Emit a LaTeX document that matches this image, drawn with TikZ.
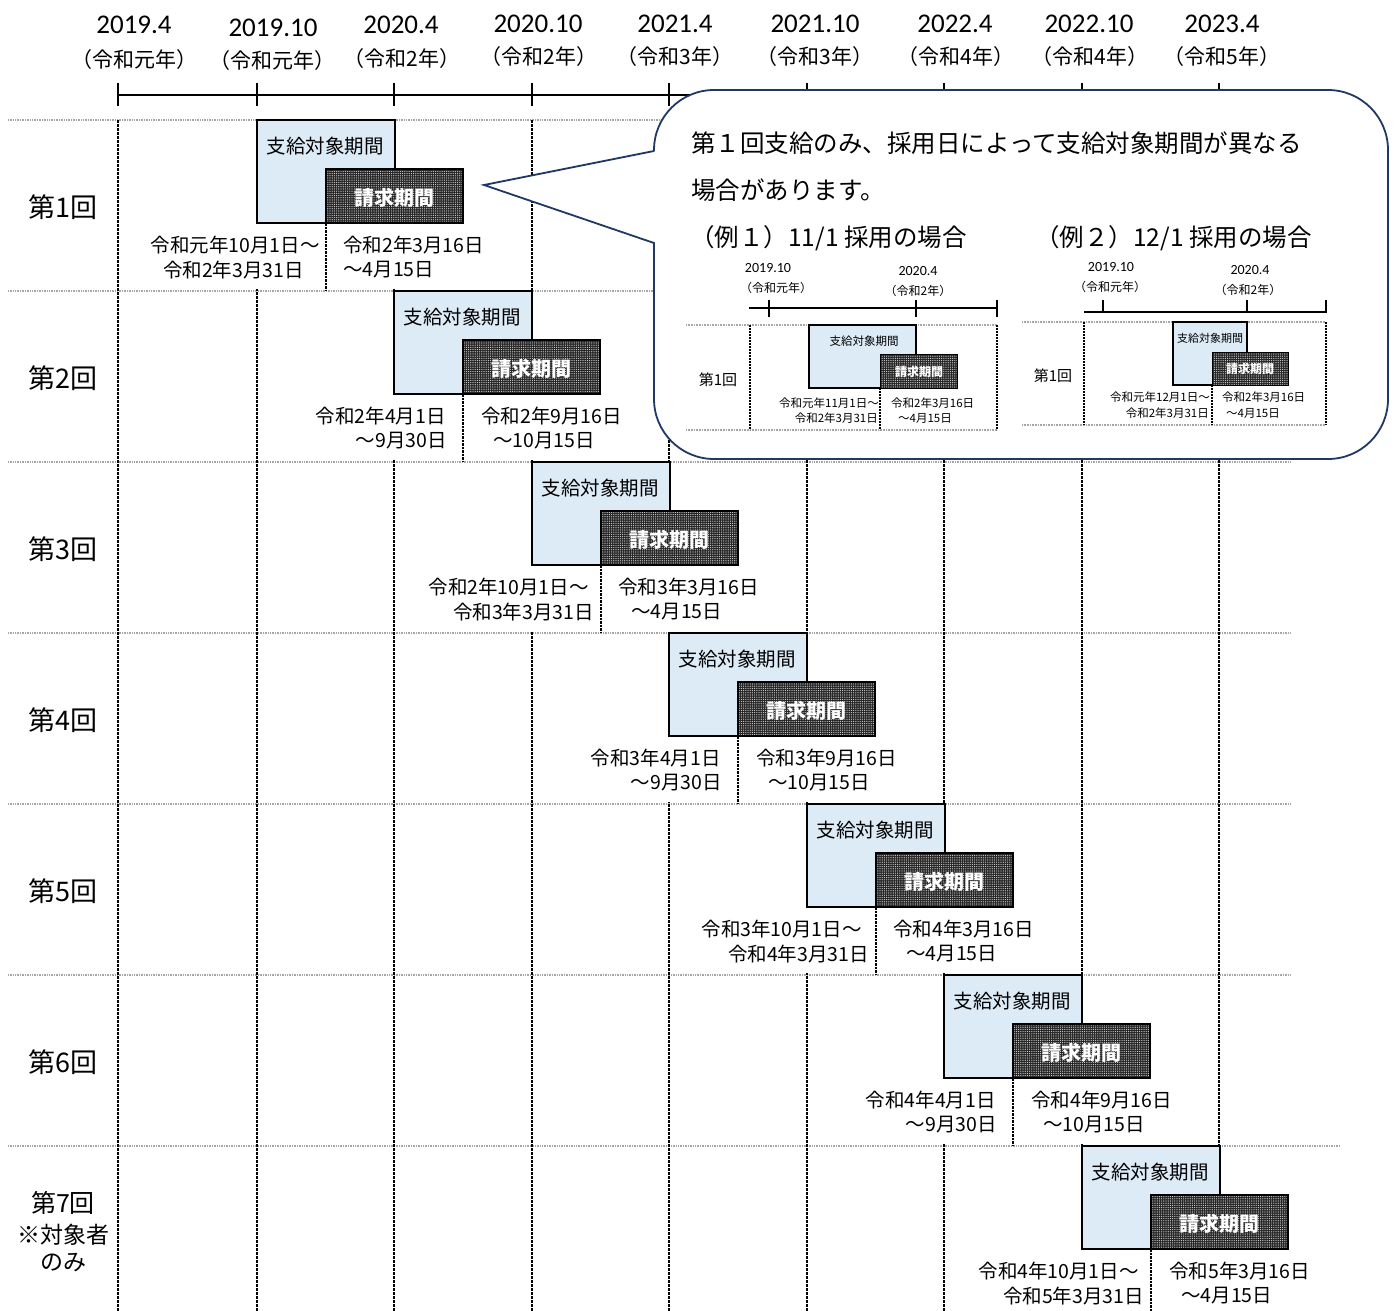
\documentclass[tikz,border=0pt]{standalone}
\usepackage{fontspec}
\setmainfont{Noto Sans CJK JP}
\newfontfamily\latinnum{Carlito}
\usetikzlibrary{patterns.meta}
\definecolor{boxblue}{RGB}{221,235,247}
\definecolor{navy}{RGB}{31,56,100}
\newcommand\fsz[1]{\fontsize{#1}{#1}\selectfont}
\tikzset{
  axisline/.style={draw=black, line width=1.6pt},
  hline/.style={draw=gray!70, line width=2.6pt, dash pattern=on 1pt off 0.7pt},
  vline/.style={draw=black, line width=2.4pt, dash pattern=on 3pt off 1pt},
  sepline/.style={draw=black, line width=1.6pt, dash pattern=on 2.5pt off 1pt},
  shline/.style={draw=gray!70, line width=1.8pt, dash pattern=on 1pt off 0.6pt},
  svline/.style={draw=black, line width=1.2pt, dash pattern=on 2pt off 1pt},
  bluebox/.style={draw=black, line width=1.8pt, fill=boxblue},
  sbluebox/.style={draw=black, line width=1.1pt, fill=boxblue},
  darkfill/.style={fill=black!85},
  darkdots/.style={pattern={Dots[distance=2.2pt,radius=0.6pt]}, pattern color=white!85!black},
  darkedge/.style={draw=black, line width=1.4pt},
  lbl/.style={inner sep=0pt, font=\fsz{19.5}},
  slbl/.style={inner sep=0pt, font=\fsz{11.5}},
  yearlbl/.style={inner sep=0pt, font=\latinnum\fsz{27}},
  erlbl/.style={inner sep=0pt, font=\fsz{21}},
  syearlbl/.style={inner sep=0pt, font=\latinnum\fsz{14}},
  serlbl/.style={inner sep=0pt, font=\fsz{12}},
  rowlbl/.style={inner sep=0pt, font=\fsz{27}, align=center},
  boxtxt/.style={inner sep=0pt, font=\fsz{19.5}},
  darktxt/.style={inner sep=0pt, font=\bfseries\fsz{20}, text=white},
  sboxtxt/.style={inner sep=0pt, font=\fsz{11.5}},
  sdarktxt/.style={inner sep=0pt, font=\bfseries\fsz{12}, text=white},
  callout/.style={draw=navy, line width=1.8pt},
  ctext/.style={inner sep=0pt, anchor=west, font=\fsz{24.5}},
}
\begin{document}
\begin{tikzpicture}[x=1pt,y=-1pt]
\useasboundingbox (0,0) rectangle (1394,1311);
\fill[white] (0,0) rectangle (1394,1311);

% ---- time axis
\draw[axisline] (118,95) coordinate (ax0) -- (1219,95) coordinate (ax1);
\foreach \x [count=\k] in {118,257,394,532,669,807,944,1082,1219}
  \draw[axisline] (\x,83) coordinate (tk\k) -- (\x,106);
\foreach \x/\y/\t [count=\k] in {134/25/2019.4, 273/28/2019.10, 401/25/2020.4, 538/24/2020.10, 675/24/2021.4, 815/24/2021.10, 955/24/2022.4, 1089/24/2022.10, 1222/24/2023.4}
  \node[yearlbl] (yr\k) at (\x,\y) {\t};
\foreach \x/\y/\t [count=\k] in {134/60/令和元年, 272/61/令和元年, 402/59/令和2年, 539/57/令和2年, 675/57/令和3年, 815/57/令和3年, 956/57/令和4年, 1090/57/令和4年, 1222/57/令和5年}
  \node[erlbl] (er\k) at (\x,\y) {（\t）};

% ---- grid
\foreach \y in {120,291,462,633,804,975}
  \draw[hline] (8,\y) -- (1290,\y);
\draw[hline] (8,1146) -- (1340,1146);
\foreach \x in {118,257,394,532,669,807,944,1082,1219}
  \draw[vline] (\x,120) -- (\x,1311);

% ---- rows
\foreach \X/\T/\la/\lax/\lb/\lbx/\ra/\rax/\rb/\rbx [count=\i] in {
257/120/令和元年10月1日～/320/令和2年3月31日/304/令和2年3月16日/343/～4月15日/343,
394/291/令和2年4月1日/446/～9月30日/447/令和2年9月16日/481/～10月15日/493,
532/462/令和2年10月1日～/589/令和3年3月31日/594/令和3年3月16日/618/～4月15日/631,
669/633/令和3年4月1日/721/～9月30日/722/令和3年9月16日/756/～10月15日/768,
807/804/令和3年10月1日～/862/令和4年3月31日/869/令和4年3月16日/893/～4月15日/906,
944/975/令和4年4月1日/996/～9月30日/997/令和4年9月16日/1031/～10月15日/1043,
1082/1146/令和4年10月1日～/1139/令和5年3月31日/1144/令和5年3月16日/1169/～4月15日/1181}
{
  \fill[white] (\X-112,\T+104) rectangle (\X+206,\T+169);
  \draw[sepline] (\X+69,\T+103) -- (\X+69,\T+171);
  \node[lbl, anchor=east] (la\i) at (\lax,\T+125) {\la};
  \node[lbl, anchor=east] (lb\i) at (\lbx,\T+150) {\lb};
  \node[lbl, anchor=west] (ra\i) at (\rax,\T+125) {\ra};
  \node[lbl, anchor=west] (rb\i) at (\rbx,\T+150) {\rb};
  \draw[bluebox] (\X,\T) rectangle (\X+137.6,\T+103);
  \node[boxtxt] (pay\i) at (\X+68,\T+26) {支給対象期間};
  \fill[darkfill] (\X+69,\T+49) rectangle (\X+206,\T+103);
  \fill[darkdots] (\X+69,\T+49) rectangle (\X+206,\T+103);
  \draw[darkedge] (\X+69,\T+49) rectangle (\X+206,\T+103);
  \node[darktxt] (req\i) at (\X+137.5,\T+78) {請求期間};
}

% ---- row labels
\foreach \T [count=\i] in {120,291,462,633,804,975}
  \node[rowlbl] (row\i) at (63,\T+87) {第\i 回};
\node[rowlbl, font=\fsz{25}] (row7a) at (63,1203) {第7回};
\node[rowlbl, font=\fsz{23}] (row7b) at (63,1235) {※対象者};
\node[rowlbl, font=\fsz{23}] (row7c) at (63,1263) {のみ};

% ---- callout
\draw[callout, fill=white, rounded corners=60pt] (654,90) rectangle (1388,459);
\fill[white] (657,151) -- (484,185) -- (657,243) -- cycle;
\draw[callout] (654,151) coordinate (cp1) -- (484,185) coordinate (ctip) -- (654,243) coordinate (cp2);

\node[ctext] (c1) at (691,143) {第１回支給のみ、採用日によって支給対象期間が異なる};
\node[ctext] (c2) at (691,190) {場合があります。};
\node[ctext] (c3) at (690,238) {（例１）11/1 採用の場合};
\node[ctext] (c4) at (1035,238) {（例２）12/1 採用の場合};

% ---- inset 1
\draw[axisline, line width=1.1pt] (749,308) -- (997,308);
\foreach \x in {769,916,997} \draw[axisline, line width=1.1pt] (\x,300) -- (\x,317);
\node[syearlbl] (e1y1) at (768,268) {2019.10};
\node[serlbl] (e1r1) at (776,288) {（令和元年）};
\node[syearlbl] (e1y2) at (918,271) {2020.4};
\node[serlbl] (e1r2) at (918,291) {（令和2年）};
\draw[shline] (686,325) -- (997,325);
\draw[shline] (686,430) -- (997,430);
\draw[svline] (750,325) -- (750,430);
\draw[svline] (997,325) -- (997,430);
\draw[svline] (880,388) -- (880,430);
\node[rowlbl, font=\fsz{15}] (e1row) at (718,380) {第1回};
\draw[sbluebox] (809,325) rectangle (916,388);
\node[sboxtxt] (e1pay) at (864,341) {支給対象期間};
\fill[darkfill] (880,354) rectangle (957,388);
\fill[darkdots] (880,354) rectangle (957,388);
\draw[darkedge, line width=1pt] (880,354) rectangle (957,388);
\node[sdarktxt] (e1req) at (919,372) {請求期間};
\node[slbl, anchor=east] (e1la) at (879,403) {令和元年11月1日～};
\node[slbl, anchor=east] (e1lb) at (878,418) {令和2年3月31日};
\node[slbl, anchor=west] (e1ra) at (891,403) {令和2年3月16日};
\node[slbl, anchor=west] (e1rb) at (898,418) {～4月15日};

% ---- inset 2
\draw[axisline, line width=1.1pt] (1084,312) -- (1326,312);
\foreach \x in {1103,1247,1326} \draw[axisline, line width=1.1pt] (\x,300) -- (\x,313);
\node[syearlbl] (e2y1) at (1111,267) {2019.10};
\node[serlbl] (e2r1) at (1110,287) {（令和元年）};
\node[syearlbl] (e2y2) at (1250,270) {2020.4};
\node[serlbl] (e2r2) at (1248,290) {（令和2年）};
\draw[shline] (1022,322) -- (1326,322);
\draw[shline] (1022,425) -- (1326,425);
\draw[svline] (1084,322) -- (1084,425);
\draw[svline] (1326,322) -- (1326,425);
\draw[svline] (1212,385) -- (1212,425);
\node[rowlbl, font=\fsz{15}] (e2row) at (1053,376) {第1回};
\draw[sbluebox] (1173,322) rectangle (1247,385);
\node[sboxtxt, font=\fsz{11}] (e2pay) at (1210,338) {支給対象期間};
\fill[darkfill] (1212,352) rectangle (1288,385);
\fill[darkdots] (1212,352) rectangle (1288,385);
\draw[darkedge, line width=1pt] (1212,352) rectangle (1288,385);
\node[sdarktxt] (e2req) at (1250,369) {請求期間};
\node[slbl, anchor=east] (e2la) at (1210,397) {令和元年12月1日～};
\node[slbl, anchor=east] (e2lb) at (1209,413) {令和2年3月31日};
\node[slbl, anchor=west] (e2ra) at (1222,397) {令和2年3月16日};
\node[slbl, anchor=west] (e2rb) at (1226,413) {～4月15日};
\end{tikzpicture}
\end{document}
